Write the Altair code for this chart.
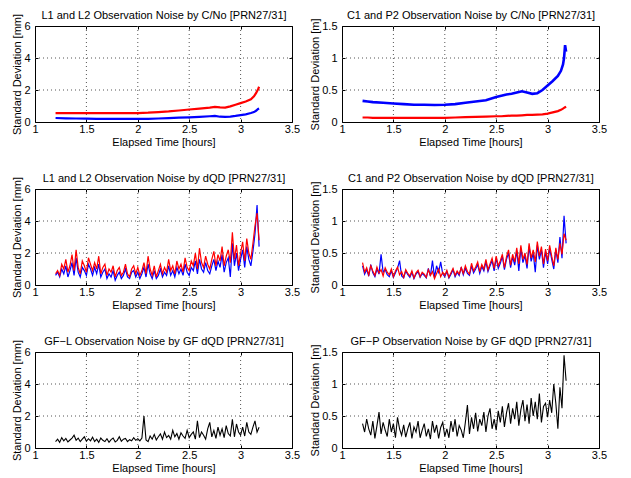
import altair as alt
import pandas as pd

FONT = "Liberation Sans"
XTICKS = [1, 1.5, 2, 2.5, 3, 3.5]
YTICKS_MM = [0, 2, 4, 6]
YTICKS_M = [0, 0.5, 1, 1.5]

# ---- smooth C/No curves ----
CNO_T_L = [1.2, 1.3, 1.4, 1.5, 1.6, 1.7, 1.8, 1.9, 2.0, 2.1, 2.2, 2.3, 2.4, 2.5, 2.6, 2.7,
           2.75, 2.8, 2.85, 2.9, 2.95, 3.0, 3.05, 3.1, 3.13, 3.15, 3.17, 3.18]
CNO_L_RED = [0.55, 0.55, 0.55, 0.55, 0.55, 0.55, 0.55, 0.55, 0.56, 0.58, 0.62, 0.66, 0.72, 0.78,
             0.84, 0.90, 0.95, 0.92, 0.90, 0.98, 1.08, 1.18, 1.28, 1.42, 1.60, 1.80, 2.05, 2.2]
CNO_L_BLUE = [0.25, 0.23, 0.22, 0.21, 0.20, 0.20, 0.19, 0.19, 0.19, 0.20, 0.22, 0.24, 0.27, 0.29,
              0.32, 0.36, 0.38, 0.33, 0.32, 0.34, 0.38, 0.43, 0.48, 0.56, 0.62, 0.70, 0.82, 0.85]

CNO_T_C = [1.2, 1.25, 1.3, 1.4, 1.5, 1.6, 1.7, 1.8, 1.9, 2.0, 2.1, 2.2, 2.3, 2.4, 2.5, 2.55, 2.6,
           2.65, 2.7, 2.75, 2.8, 2.85, 2.9, 2.95, 3.0, 3.05, 3.1, 3.13, 3.15, 3.16, 3.17, 3.18]
CNO_C_BLUE = [0.33, 0.32, 0.31, 0.30, 0.29, 0.28, 0.27, 0.27, 0.265, 0.27, 0.28, 0.30, 0.32, 0.34,
              0.39, 0.41, 0.43, 0.44, 0.46, 0.48, 0.46, 0.44, 0.45, 0.50, 0.57, 0.64, 0.72, 0.80,
              0.90, 1.0, 1.2, 1.1]
CNO_C_RED = [0.07, 0.07, 0.065, 0.065, 0.065, 0.065, 0.065, 0.065, 0.065, 0.065, 0.07, 0.075, 0.08,
             0.085, 0.09, 0.09, 0.095, 0.1, 0.1, 0.105, 0.11, 0.11, 0.115, 0.12, 0.13, 0.15, 0.17,
             0.19, 0.21, 0.22, 0.23, 0.24]

# ---- noisy dQD series (sampled every 0.02 h) ----
TIME = [1.20, 1.22, 1.24, 1.26, 1.28, 1.30, 1.32, 1.34, 1.36, 1.38, 1.40, 1.42, 1.44, 1.46, 1.48,
        1.50, 1.52, 1.54, 1.56, 1.58, 1.60, 1.62, 1.64, 1.66, 1.68, 1.70, 1.72, 1.74, 1.76, 1.78,
        1.80, 1.82, 1.84, 1.86, 1.88, 1.90, 1.92, 1.94, 1.96, 1.98, 2.00, 2.02, 2.04, 2.06, 2.08,
        2.10, 2.12, 2.14, 2.16, 2.18, 2.20, 2.22, 2.24, 2.26, 2.28, 2.30, 2.32, 2.34, 2.36, 2.38,
        2.40, 2.42, 2.44, 2.46, 2.48, 2.50, 2.52, 2.54, 2.56, 2.58, 2.60, 2.62, 2.64, 2.66, 2.68,
        2.70, 2.72, 2.74, 2.76, 2.78, 2.80, 2.82, 2.84, 2.86, 2.88, 2.90, 2.92, 2.94, 2.96, 2.98,
        3.00, 3.02, 3.04, 3.06, 3.08, 3.10, 3.12, 3.14, 3.16, 3.18]

DQD_L_RED = [0.7, 0.9, 0.6, 1.3, 1.0, 1.6, 0.8, 1.2, 1.9, 0.9,
             2.2, 1.1, 0.7, 1.5, 1.2, 0.8, 1.7, 1.3, 0.9, 1.4,
             1.0, 1.8, 0.7, 1.1, 1.3, 0.6, 1.0, 0.8, 1.2, 0.5,
             0.9, 1.1, 0.6, 0.8, 1.3, 0.7, 0.5, 1.0, 1.2, 0.7,
             1.1, 0.6, 0.9, 1.4, 0.7, 1.8, 1.0, 0.6, 1.2, 0.5,
             0.9, 1.3, 0.7, 1.1, 0.8, 1.6, 0.9, 1.2, 0.7, 1.5,
             1.0, 1.3, 0.8, 1.7, 1.1, 0.9, 1.5, 1.2, 2.0, 1.0,
             2.3, 1.4, 1.1, 1.8, 1.3, 1.0, 1.6, 2.1, 1.2, 1.9,
             1.5, 2.4, 1.2, 1.8, 2.2, 1.4, 3.3, 1.6, 2.5, 1.2,
             2.0, 2.7, 1.5, 2.9, 2.0, 1.6, 2.6, 3.7, 4.5, 2.8]
DQD_L_BLUE = [0.6, 0.8, 0.5, 1.0, 0.7, 1.2, 0.5, 0.9, 1.4, 0.6,
              1.7, 0.8, 0.5, 1.1, 0.9, 0.6, 1.3, 1.0, 0.6, 1.1,
              0.7, 1.3, 0.5, 0.8, 1.0, 0.4, 0.7, 0.5, 0.9, 0.3,
              0.6, 0.8, 0.4, 0.6, 1.0, 0.5, 0.4, 0.8, 0.9, 0.5,
              0.8, 0.4, 0.7, 1.1, 0.5, 1.3, 0.7, 0.4, 0.9, 0.4,
              0.6, 1.0, 0.5, 0.8, 0.6, 1.2, 0.6, 0.9, 0.5, 1.1,
              0.7, 1.0, 0.6, 1.3, 0.8, 0.6, 1.1, 0.9, 1.5, 0.7,
              1.6, 1.0, 0.8, 1.4, 0.9, 0.7, 1.2, 1.6, 0.9, 1.5,
              1.1, 1.9, 0.8, 1.4, 1.7, 0.5, 2.6, 1.2, 2.0, 0.9,
              1.6, 2.2, 1.1, 2.4, 1.6, 1.2, 2.1, 3.2, 5.0, 2.4]

DQD_C_RED = [0.35, 0.20, 0.27, 0.16, 0.30, 0.22, 0.15, 0.28, 0.19, 0.24,
             0.14, 0.27, 0.20, 0.16, 0.25, 0.13, 0.22, 0.28, 0.16, 0.21,
             0.12, 0.24, 0.18, 0.14, 0.22, 0.11, 0.19, 0.23, 0.13, 0.20,
             0.17, 0.12, 0.24, 0.15, 0.21, 0.10, 0.18, 0.25, 0.13, 0.20,
             0.15, 0.23, 0.12, 0.19, 0.26, 0.15, 0.22, 0.17, 0.27, 0.18,
             0.30, 0.21, 0.17, 0.34, 0.22, 0.28, 0.36, 0.21, 0.32, 0.25,
             0.40, 0.24, 0.33, 0.42, 0.26, 0.45, 0.30, 0.38, 0.48, 0.27,
             0.44, 0.55, 0.31, 0.48, 0.36, 0.58, 0.33, 0.62, 0.40, 0.50,
             0.32, 0.65, 0.42, 0.55, 0.36, 0.68, 0.45, 0.60, 0.33, 0.56,
             0.38, 0.62, 0.45, 0.30, 0.58, 0.40, 0.65, 0.48, 0.80, 0.70]
DQD_C_BLUE = [0.30, 0.17, 0.24, 0.14, 0.32, 0.19, 0.13, 0.25, 0.17, 0.48,
              0.20, 0.24, 0.16, 0.13, 0.22, 0.12, 0.19, 0.26, 0.38, 0.14,
              0.11, 0.22, 0.16, 0.12, 0.20, 0.10, 0.17, 0.21, 0.12, 0.18,
              0.15, 0.11, 0.26, 0.14, 0.38, 0.12, 0.30, 0.20, 0.36, 0.17,
              0.13, 0.21, 0.11, 0.17, 0.24, 0.13, 0.20, 0.15, 0.28, 0.16,
              0.26, 0.18, 0.15, 0.30, 0.19, 0.25, 0.32, 0.18, 0.29, 0.22,
              0.36, 0.21, 0.30, 0.38, 0.22, 0.42, 0.26, 0.34, 0.45, 0.24,
              0.40, 0.50, 0.27, 0.44, 0.31, 0.54, 0.22, 0.57, 0.35, 0.46,
              0.26, 0.60, 0.37, 0.50, 0.20, 0.62, 0.40, 0.55, 0.27, 0.52,
              0.33, 0.57, 0.40, 0.25, 0.55, 0.35, 0.75, 0.42, 1.08, 0.65]

GF_L = [0.40, 0.55, 0.35, 0.65, 0.45, 0.60, 0.38, 0.50, 0.62, 0.80,
        0.48, 0.62, 0.40, 0.55, 0.70, 0.42, 0.58, 0.45, 0.68, 0.40,
        0.55, 0.35, 0.62, 0.48, 0.40, 0.58, 0.36, 0.52, 0.62, 0.38,
        0.48, 0.70, 0.42, 0.55, 0.60, 0.40, 0.52, 0.45, 0.65, 0.48,
        0.58, 0.45, 0.62, 2.00, 0.50, 0.40, 0.75, 0.55, 0.85, 0.50,
        0.70, 0.88, 0.55, 1.00, 0.65, 0.78, 0.55, 1.10, 0.70, 0.90,
        0.55, 0.95, 0.75, 0.60, 1.10, 0.65, 0.85, 1.00, 0.55, 1.70,
        0.65, 1.00, 0.80, 0.55, 1.20, 1.60, 0.70, 1.10, 0.60, 1.30,
        0.80, 1.20, 0.65, 1.40, 0.90, 0.75, 1.80, 0.70, 1.50, 1.00,
        0.80, 1.30, 0.75, 1.60, 1.00, 0.85, 1.30, 1.70, 1.00, 1.30]
GF_P = [0.38, 0.25, 0.45, 0.30, 0.20, 0.42, 0.15, 0.35, 0.56, 0.22,
        0.40, 0.28, 0.18, 0.45, 0.25, 0.38, 0.16, 0.48, 0.30, 0.20,
        0.36, 0.17, 0.30, 0.40, 0.15, 0.33, 0.25, 0.42, 0.16, 0.28,
        0.38, 0.18, 0.30, 0.14, 0.42, 0.24, 0.36, 0.15, 0.32, 0.40,
        0.18, 0.30, 0.16, 0.42, 0.25, 0.45, 0.18, 0.35, 0.28, 0.16,
        0.40, 0.67, 0.22, 0.48, 0.30, 0.55, 0.26, 0.45, 0.35, 0.56,
        0.25, 0.50, 0.62, 0.30, 0.45, 0.28, 0.58, 0.40, 0.65, 0.33,
        0.55, 0.70, 0.38, 0.62, 0.45, 0.72, 0.35, 0.60, 0.75, 0.42,
        0.68, 0.38, 0.78, 0.50, 0.72, 0.45, 0.85, 0.40, 0.65, 0.70,
        0.48, 0.75, 0.55, 1.00, 0.70, 0.30, 0.95, 0.62, 1.45, 1.05]

BLUE = "#0000ff"
RED = "#ff0000"
BLACK = "#000000"


def panel(title, ytitle, ymax, yticks, series):
    xs = alt.Scale(domain=[1, 3.5], nice=False, zero=False)
    ys = alt.Scale(domain=[0, ymax], nice=False, zero=False)
    grid_style = dict(color="#555555", strokeDash=[1, 3], strokeWidth=1)
    vgrid = alt.Chart(pd.DataFrame({"g": XTICKS[1:-1]})).mark_rule(**grid_style).encode(
        x=alt.X("g:Q", scale=xs, axis=None))
    hgrid = alt.Chart(pd.DataFrame({"g": yticks[1:-1]})).mark_rule(**grid_style).encode(
        y=alt.Y("g:Q", scale=ys, axis=None))
    layers = [vgrid, hgrid]
    xaxis = alt.Axis(values=XTICKS, format="~g", title="Elapsed Time [hours]", orient="bottom",
                     offset=-3, tickSize=3, labelPadding=1, titlePadding=2, minExtent=0)
    yaxis = alt.Axis(values=yticks, format="~g", title=ytitle, orient="left",
                     offset=-3, tickSize=3, labelPadding=5, titlePadding=1, minExtent=0)
    for i, (xv, yv, col, w) in enumerate(series):
        df = pd.DataFrame({"t": xv, "v": yv})
        layers.append(alt.Chart(df).mark_line(color=col, strokeWidth=w, clip=True).encode(
            x=alt.X("t:Q", scale=xs, axis=xaxis if i == 0 else None),
            y=alt.Y("v:Q", scale=ys, axis=yaxis if i == 0 else None)))
    xv, yv = series[0][0], series[0][1]
    frame = alt.Chart(pd.DataFrame({"t": xv, "v": yv})).mark_line(opacity=0).encode(
        x=alt.X("t:Q", scale=xs, axis=alt.Axis(values=XTICKS, orient="top", labels=False,
                                               title=title, titlePadding=5, offset=-3,
                                               tickSize=3, minExtent=0)),
        y=alt.Y("v:Q", scale=ys, axis=alt.Axis(values=yticks, orient="right", labels=False,
                                               title=None, offset=-3, tickSize=3,
                                               minExtent=0, maxExtent=0)))
    layers.append(frame)
    return alt.layer(*layers).properties(width=257, height=96).resolve_axis(
        x="independent", y="independent")


p1 = panel("L1 and L2 Observation Noise by C/No [PRN27/31]", "Standard Deviation [mm]", 6,
           YTICKS_MM, [(CNO_T_L, CNO_L_BLUE, BLUE, 2.2), (CNO_T_L, CNO_L_RED, RED, 2.2)])
p2 = panel("C1 and P2 Observation Noise by C/No [PRN27/31]", "Standard Deviation [m]", 1.5,
           YTICKS_M, [(CNO_T_C, CNO_C_RED, RED, 2.2), (CNO_T_C, CNO_C_BLUE, BLUE, 2.6)])
p3 = panel("L1 and L2 Observation Noise by dQD [PRN27/31]", "Standard Deviation [mm]", 6,
           YTICKS_MM, [(TIME, DQD_L_BLUE, BLUE, 1.2), (TIME, DQD_L_RED, RED, 1.2)])
p4 = panel("C1 and P2 Observation Noise by dQD [PRN27/31]", "Standard Deviation [m]", 1.5,
           YTICKS_M, [(TIME, DQD_C_BLUE, BLUE, 1.2), (TIME, DQD_C_RED, RED, 1.2)])
p5 = panel("GF\u2212L Observation Noise by GF dQD [PRN27/31]", "Standard Deviation [mm]", 6,
           YTICKS_MM, [(TIME, GF_L, BLACK, 1.1)])
p6 = panel("GF\u2212P Observation Noise by GF dQD [PRN27/31]", "Standard Deviation [m]", 1.5,
           YTICKS_M, [(TIME, GF_P, BLACK, 1.1)])

chart = alt.concat(p1, p2, p3, p4, p5, p6, columns=2,
                   spacing=alt.RowColnumber(row=67, column=50), bounds="flush").properties(
    padding={"left": 3, "top": 1, "right": 0, "bottom": 0},
    background="white",
).configure_view(stroke="black", strokeWidth=1).configure_axis(
    labelFont=FONT, labelFontSize=11, labelColor="black", titleFont=FONT, titleFontSize=11,
    titleFontWeight="normal", titleColor="black", tickColor="black", domain=False, grid=False,
    labelFlush=False, labelOverlap=False, minExtent=0,
)

chart.save("out.html", embed_options={"renderer": "svg", "actions": False})
